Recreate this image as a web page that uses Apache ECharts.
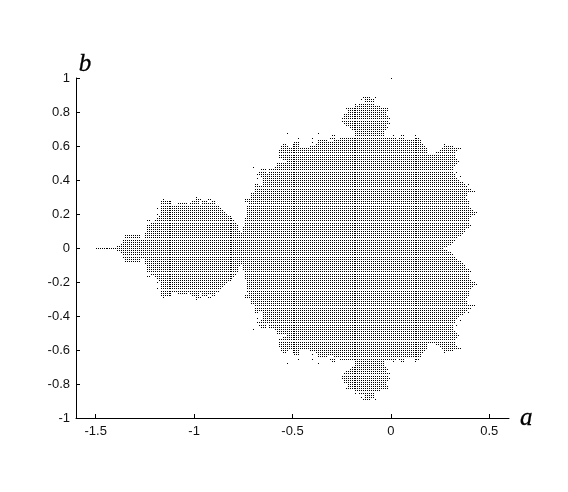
<!DOCTYPE html>
<html>
<head>
<meta charset="utf-8">
<style>
    html, body { margin: 0; padding: 0; background: #fff; }
    #chart { width: 568px; height: 492px; }
</style>
<script src="https://cdn.jsdelivr.net/npm/echarts@6/dist/echarts.min.js"></script>
</head>
<body>
<div id="chart"></div>
<script>
const xTicks = [-1.5, -1, -0.5, 0, 0.5];
const yTicks = [-1, -0.8, -0.6, -0.4, -0.2, 0, 0.2, 0.4, 0.6, 0.8, 1];

// rows of the set, b >= 0 (the lower half reads the same)
const rowB = [
    0, 0.0125, 0.025, 0.0375, 0.05, 0.0625, 0.075, 0.0875, 0.1, 0.1125, 0.125, 0.1375,
    0.15, 0.1625, 0.175, 0.1875, 0.2, 0.2125, 0.225, 0.2375, 0.25, 0.2625, 0.275, 0.2875,
    0.3, 0.3125, 0.325, 0.3375, 0.35, 0.3625, 0.375, 0.3875, 0.4, 0.4125, 0.425, 0.4375,
    0.45, 0.4625, 0.475, 0.4875, 0.5, 0.5125, 0.525, 0.5375, 0.55, 0.5625, 0.575, 0.5875,
    0.6, 0.6125, 0.625, 0.6375, 0.65, 0.6625, 0.675, 0.6875, 0.7, 0.7125, 0.725, 0.7375,
    0.75, 0.7625, 0.775, 0.7875, 0.8, 0.8125, 0.825, 0.8375, 0.85, 0.8625, 0.875, 0.8875
];
// filled runs of a for each row, [from, to]
const rowRuns = [
    [[-1.50, 0.26]],
    [[-1.39, 0.28]],
    [[-1.37, 0.30]],
    [[-1.36, 0.31]],
    [[-1.36, 0.32]],
    [[-1.35, -1.28], [-1.25, 0.33]],
    [[-1.35, -1.28], [-1.25, 0.35]],
    [[-1.25, 0.36]],
    [[-1.24, -0.77], [-0.75, 0.37]],
    [[-1.24, -0.78], [-0.75, 0.37]],
    [[-1.24, -0.78], [-0.75, 0.39]],
    [[-1.24, -0.78], [-0.74, 0.40]],
    [[-1.22, -0.79], [-0.74, 0.39]],
    [[-1.24, -1.23], [-1.20, -0.80], [-0.74, 0.39]],
    [[-1.19, -0.81], [-0.74, 0.39]],
    [[-1.18, -0.82], [-0.73, 0.40]],
    [[-1.19, -1.19], [-1.17, -0.84], [-0.73, 0.42]],
    [[-1.17, -0.85], [-0.73, 0.43]],
    [[-1.17, -0.86], [-0.73, 0.41]],
    [[-1.19, -1.19], [-1.17, -0.87], [-0.73, 0.40]],
    [[-1.17, -0.88], [-0.73, 0.39]],
    [[-1.17, -1.12], [-1.08, -1.04], [-1.02, -0.98], [-0.96, -0.90], [-0.72, 0.39]],
    [[-1.17, -1.12], [-1.01, -0.98], [-0.96, -0.94], [-0.91, -0.90], [-0.74, 0.39]],
    [[-1.16, -1.16], [-0.99, -0.97], [-0.93, -0.92], [-0.74, 0.38]],
    [[-0.99, -0.99], [-0.71, 0.37]],
    [[-0.71, 0.38]],
    [[-0.71, 0.38]],
    [[-0.69, 0.42]],
    [[-0.69, 0.40]],
    [[-0.69, 0.38]],
    [[-0.69, -0.68], [-0.65, 0.37], [0.39, 0.39]],
    [[-0.65, 0.36]],
    [[-0.65, 0.34]],
    [[-0.68, -0.68], [-0.65, 0.33]],
    [[-0.66, 0.32], [0.35, 0.35]],
    [[-0.68, -0.64], [-0.63, 0.32]],
    [[-0.67, -0.64], [-0.62, 0.31], [0.33, 0.33]],
    [[-0.66, -0.64], [-0.62, 0.31]],
    [[-0.70, -0.70], [-0.59, 0.31]],
    [[-0.58, 0.32]],
    [[-0.58, 0.33]],
    [[-0.53, 0.34]],
    [[-0.55, 0.33]],
    [[-0.57, 0.32]],
    [[-0.57, 0.21], [0.22, 0.32]],
    [[-0.57, 0.18], [0.23, 0.32]],
    [[-0.57, 0.18], [0.25, 0.33]],
    [[-0.56, 0.18], [0.26, 0.34], [0.35, 0.35]],
    [[-0.56, -0.53], [-0.50, -0.47], [-0.41, 0.17], [0.27, 0.31]],
    [[-0.55, -0.54], [-0.50, -0.47], [-0.38, 0.16], [0.27, 0.27]],
    [[-0.49, -0.47], [-0.40, -0.40], [-0.37, 0.15]],
    [[-0.37, -0.33], [-0.29, 0.15]],
    [[-0.47, -0.47], [-0.40, -0.40], [-0.31, -0.29], [-0.26, 0.02], [0.04, 0.06], [0.12, 0.14]],
    [[-0.30, -0.29], [-0.18, -0.04], [0.01, 0.01], [0.05, 0.06], [0.12, 0.12]],
    [[-0.53, -0.53], [-0.37, -0.37], [-0.18, -0.04]],
    [[-0.18, -0.04]],
    [[-0.20, -0.03]],
    [[-0.21, -0.02]],
    [[-0.23, -0.03]],
    [[-0.24, -0.01]],
    [[-0.25, -0.02]],
    [[-0.25, -0.01]],
    [[-0.24, -0.02]],
    [[-0.24, -0.03]],
    [[-0.22, -0.03]],
    [[-0.22, -0.02]],
    [[-0.23, -0.23], [-0.22, -0.02]],
    [[-0.18, -0.06]],
    [[-0.18, -0.18], [-0.16, -0.09]],
    [[-0.13, -0.09]],
    [[-0.15, -0.15], [-0.13, -0.09]],
    [[-0.14, -0.14], [-0.13, -0.11], [-0.08, -0.08]]
];
const strayPoints = [[0, 1]];

const points = strayPoints.slice();
rowB.forEach((b, i) => {
    rowRuns[i].forEach(run => {
        const from = Math.round(run[0] * 100);
        const to = Math.round(run[1] * 100);
        for (let c = from; c <= to; c++) {
            points.push([c / 100, b]);
            if (b != 0) points.push([c / 100, -b]);
        }
    });
});

const myChart = echarts.init(document.getElementById('chart'));

const option = {
    animation: false,
    backgroundColor: '#fff',
    grid: { left: 76, top: 78, width: 433, height: 340 },
    xAxis: {
        type: 'value',
        min: -1.6,
        max: 0.6,
        name: 'a',
        nameLocation: 'end',
        nameGap: 11,
        nameTextStyle: {
            fontFamily: 'Liberation Serif',
            fontStyle: 'italic',
            fontSize: 25,
            color: '#000',
            verticalAlign: 'middle',
            padding: [3, 0, 0, 0],
            textBorderColor: '#000',
            textBorderWidth: 0.3
        },
        splitLine: { show: false },
        axisLine: { onZero: false, lineStyle: { color: '#000', width: 1 } },
        axisTick: { inside: true, length: 4, customValues: xTicks, lineStyle: { color: '#000' } },
        axisLabel: {
            customValues: xTicks,
            margin: 7,
            color: '#111',
            fontFamily: 'Liberation Sans',
            fontSize: 13,
            formatter: v => String(v)
        }
    },
    yAxis: {
        type: 'value',
        min: -1,
        max: 1,
        name: 'b',
        nameLocation: 'end',
        nameGap: 1,
        nameTextStyle: {
            fontFamily: 'Liberation Serif',
            fontStyle: 'italic',
            fontSize: 25,
            color: '#000',
            padding: [0, 0, 0, 18],
            textBorderColor: '#000',
            textBorderWidth: 0.3
        },
        splitLine: { show: false },
        axisLine: { onZero: false, lineStyle: { color: '#000', width: 1 } },
        axisTick: { inside: true, length: 4, customValues: yTicks, lineStyle: { color: '#000' } },
        axisLabel: {
            customValues: yTicks,
            margin: 6,
            color: '#111',
            fontFamily: 'Liberation Sans',
            fontSize: 13,
            formatter: v => String(v)
        }
    },
    series: [
        {
            type: 'custom',
            silent: true,
            clip: false,
            progressive: 0,
            encode: { x: 0, y: 1 },
            data: points,
            renderItem: (params, api) => {
                const p = api.coord([api.value(0), api.value(1)]);
                return {
                    type: 'rect',
                    shape: { x: Math.round(p[0]), y: Math.round(p[1]), width: 1, height: 1 },
                    style: { fill: '#000' }
                };
            }
        }
    ]
};

option && myChart.setOption(option);
</script>
</body>
</html>
